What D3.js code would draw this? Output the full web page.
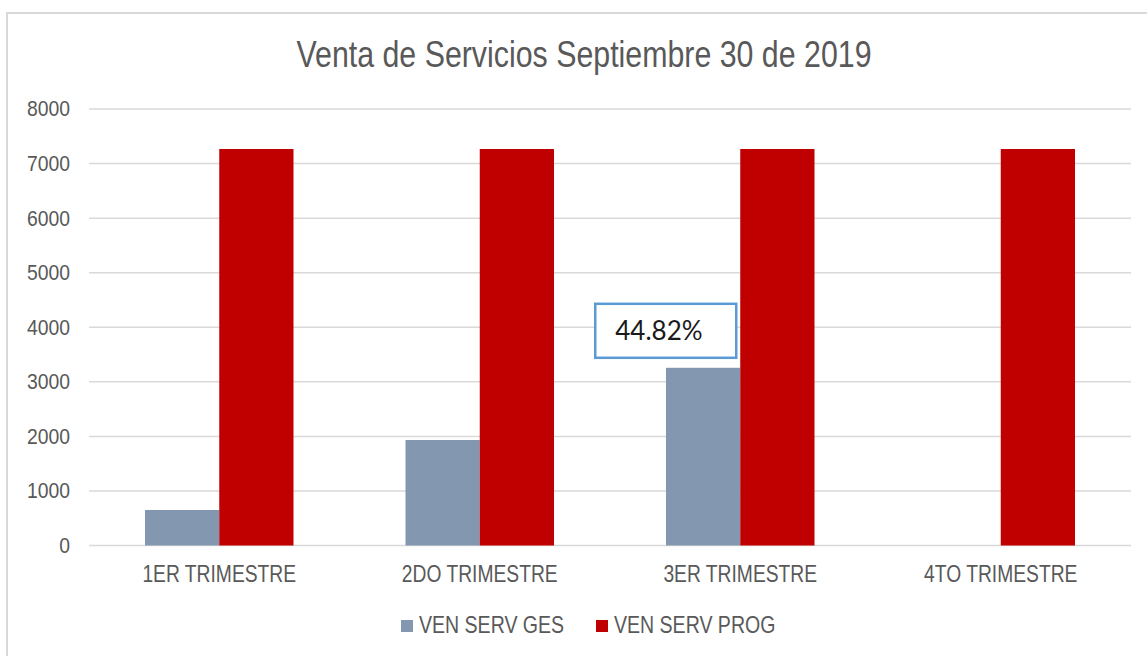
<!DOCTYPE html>
<html>
<head>
<meta charset="utf-8">
<script src="https://cdn.jsdelivr.net/npm/d3@7"></script>
<style>
  html, body { margin: 0; padding: 0; background: #fff; }
  svg { display: block; }
  .lbl { font-family: "Liberation Sans", Arial, sans-serif; fill: #595959; }
</style>
</head>
<body>
<div id="chart"></div>
<script>
// chart data
var categories = ["1ER TRIMESTRE", "2DO TRIMESTRE", "3ER TRIMESTRE", "4TO TRIMESTRE"];
var seriesNames = ["VEN SERV GES", "VEN SERV PROG"];
var serviciosGes = [651, 1934, 3257, null];
var serviciosProg = [7267, 7267, 7267, 7267];
var yTicks = [0, 1000, 2000, 3000, 4000, 5000, 6000, 7000, 8000];
var notaTexto = "44.82%";
var notaCategoria = 2;

var colors = ["#8497b0", "#c00000"];
var W = 1147, H = 656;
var NARROW = 0.82; // squeeze to look like Arial Narrow

var svg = d3.select("#chart").append("svg")
    .attr("width", W)
    .attr("height", H);

// outer chart border
svg.append("rect")
    .attr("x", 7).attr("y", 13)
    .attr("width", W + 10).attr("height", H + 10)
    .attr("fill", "none")
    .attr("stroke", "#d9d9d9")
    .attr("stroke-width", 2);

svg.append("text")
    .attr("class", "lbl")
    .attr("transform", "translate(584,67) scale(" + NARROW + ",1)")
    .attr("text-anchor", "middle")
    .style("font-size", "37px")
    .text("Venta de Servicios Septiembre 30 de 2019");

var x0 = d3.scaleBand()
    .domain(categories)
    .range([89, 1131])
    .paddingInner(0.43)
    .paddingOuter(0.215);

var x1 = d3.scaleBand()
    .domain(seriesNames)
    .range([0, x0.bandwidth()]);

var y = d3.scaleLinear()
    .domain([0, 8000])
    .range([545.5, 109]);

// gridlines
svg.append("g")
    .selectAll("line")
    .data(yTicks)
    .join("line")
    .attr("x1", 89).attr("x2", 1131)
    .attr("y1", d => y(d)).attr("y2", d => y(d))
    .attr("stroke", "#d9d9d9")
    .attr("stroke-width", 1.5);

// y labels
var yAxis = svg.append("g")
    .attr("transform", "translate(70,0)")
    .call(d3.axisLeft(y).tickValues(yTicks).tickFormat(d3.format("d")).tickSize(0).tickPadding(0));
yAxis.select(".domain").remove();
yAxis.selectAll("text")
    .attr("class", "lbl")
    .attr("fill", null)
    .attr("x", null)
    .attr("transform", "scale(0.9,1)")
    .style("font-size", "21.5px")
    .style("font-family", null);

var rows = categories.map((c, i) => ({cat: c, vals: [serviciosGes[i], serviciosProg[i]]}));

var groups = svg.append("g")
    .selectAll("g")
    .data(rows)
    .join("g")
    .attr("transform", d => "translate(" + x0(d.cat) + ",0)");

groups.selectAll("rect")
    .data(d => d.vals.map((v, j) => ({name: seriesNames[j], v: v, j: j})).filter(e => e.v != null))
    .join("rect")
    .attr("x", e => x1(e.name))
    .attr("width", x1.bandwidth())
    .attr("y", e => y(e.v))
    .attr("height", e => y(0) - y(e.v))
    .attr("fill", e => colors[e.j]);

// x labels
var xAxis = svg.append("g")
    .attr("transform", "translate(0,545.5)")
    .call(d3.axisBottom(x0).tickSize(0).tickPadding(0));
xAxis.select(".domain").remove();
xAxis.selectAll("text")
    .attr("class", "lbl")
    .attr("fill", null)
    .attr("dy", null)
    .attr("y", null)
    .attr("transform", "translate(0,36) scale(" + NARROW + ",1)")
    .style("font-size", "23.5px")
    .style("font-family", null);

// annotation box on the 3rd quarter bar
var bx = x0(categories[notaCategoria]) + x1(seriesNames[0]) + x1.bandwidth();
var by = y(serviciosGes[notaCategoria]);
var nota = svg.append("g");
nota.append("rect")
    .attr("x", bx - 145).attr("y", by - 64)
    .attr("width", 141).attr("height", 54)
    .attr("fill", "#fff")
    .attr("stroke", "#5b9bd5")
    .attr("stroke-width", 2.5);
nota.append("text")
    .attr("x", bx - 125).attr("y", by - 28)
    .style("font-family", "Lato, 'Liberation Sans', Arial, sans-serif")
    .style("font-size", "26px")
    .attr("fill", "#1a1a1a")
    .text(notaTexto);

// legend
var legend = svg.append("g");
var legX = [401, 596];
seriesNames.forEach((n, i) => {
    legend.append("rect")
        .attr("x", legX[i]).attr("y", 620)
        .attr("width", 12).attr("height", 12)
        .attr("fill", colors[i]);
    legend.append("text")
        .attr("class", "lbl")
        .attr("transform", "translate(" + (legX[i] + 18) + ",633) scale(0.85,1)")
        .style("font-size", "23px")
        .text(n);
});
</script>
</body>
</html>
